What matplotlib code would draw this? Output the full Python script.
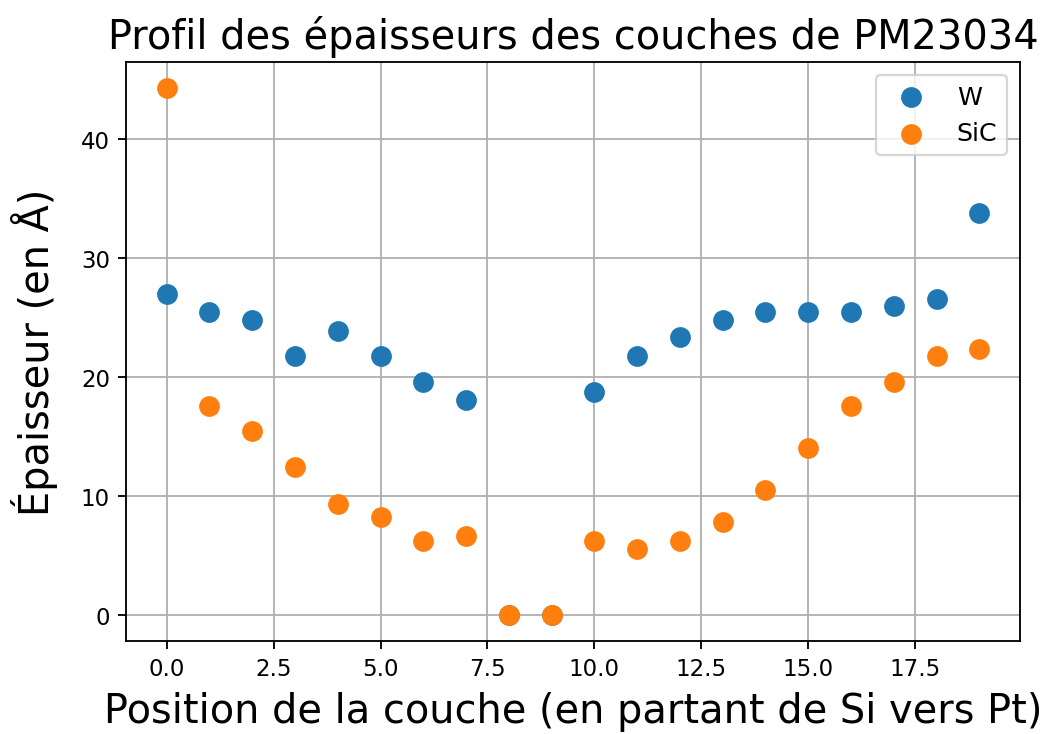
import numpy as np
import matplotlib.pyplot as plt

# Positions des couches, de Si vers Pt
positions = list(range(20))

# Épaisseurs mesurées (en Å)
ep_W = [27.0, 25.5, 24.8, 21.8, 23.9, 21.8, 19.6, 18.1, 0.0, 0.0,
        18.7, 21.8, 23.4, 24.8, 25.5, 25.5, 25.5, 26.0, 26.6, 33.8]
ep_SiC = [44.3, 17.6, 15.5, 12.4, 9.3, 8.2, 6.2, 6.6, 0.0, 0.0,
          6.2, 5.5, 6.2, 7.8, 10.5, 14.0, 17.6, 19.6, 21.8, 22.4]

DPI = 165
fig = plt.figure(figsize=(1045 / DPI, 735 / DPI), dpi=DPI)
ax = fig.add_axes([126/1045, 1 - 642/735, (1020 - 126)/1045, (642 - 63)/735])

ax.scatter(positions, ep_W, s=65, label='W')
ax.scatter(positions, ep_SiC, s=65, label='SiC')

ax.grid(True)
ax.set_axisbelow(True)

ax.set_title('Profil des épaisseurs des couches de PM23034', fontsize=17.4)
ax.set_xlabel('Position de la couche (en partant de Si vers Pt)', fontsize=17.4, labelpad=5)
ax.set_ylabel('Épaisseur (en Å)', fontsize=17.4, labelpad=10)
ax.legend(loc='upper right', fontsize=11)

fig.savefig('out.png', dpi=DPI)
